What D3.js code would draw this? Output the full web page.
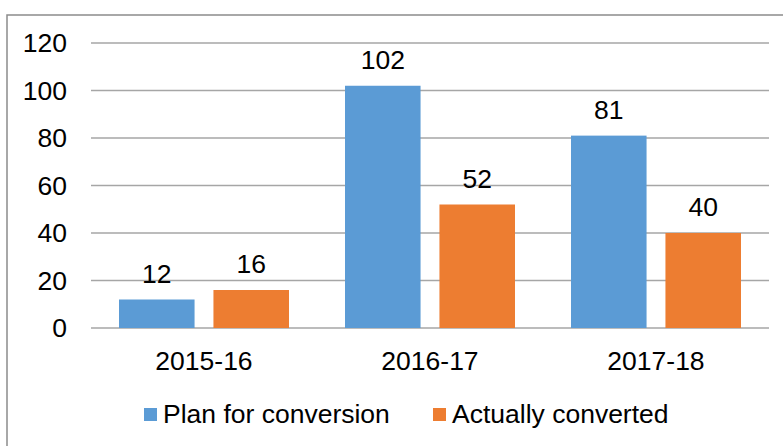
<!DOCTYPE html>
<html>
<head>
<meta charset="utf-8">
<script src="https://cdn.jsdelivr.net/npm/d3@7"></script>
<style>
  body { margin: 0; background: #fff; }
  text { font-family: "Liberation Sans", Arial, sans-serif; fill: #000; }
</style>
</head>
<body>
<div id="chart"></div>
<script>
// data
const years = ["2015-16", "2016-17", "2017-18"];
const seriesNames = ["Plan for conversion", "Actually converted"];
const planValues = [12, 102, 81];
const convertedValues = [16, 52, 40];
const yTicks = [0, 20, 40, 60, 80, 100, 120];
const colors = ["#5B9BD5", "#ED7D31"];

const W = 783, H = 446;
const margin = { top: 43, right: 14, bottom: 118, left: 91 };
const width = W - margin.left - margin.right;
const height = H - margin.top - margin.bottom;
const fs = "26.5px";

const svg = d3.select("#chart").append("svg").attr("width", W).attr("height", H);

// outer chart border (right and bottom run off the picture)
svg.append("rect")
  .attr("x", 7).attr("y", 15)
  .attr("width", 800).attr("height", 460)
  .attr("fill", "none").attr("stroke", "#8c8c8c").attr("stroke-width", 1.5);

const g = svg.append("g").attr("transform", `translate(${margin.left},${margin.top})`);

const x = d3.scaleBand().domain(years).range([0, width]).paddingInner(0).paddingOuter(0);
const x1 = d3.scaleBand().domain(seriesNames).range([28, x.bandwidth() - 28]).paddingInner(0.2);
const y = d3.scaleLinear().domain([0, 120]).range([height, 0]);

// gridlines
g.selectAll(".grid").data(yTicks).enter().append("line")
  .attr("class", "grid")
  .attr("x1", 0).attr("x2", width)
  .attr("y1", d => y(d)).attr("y2", d => y(d))
  .attr("stroke", "#a6a6a6").attr("stroke-width", 1.5);

// y labels
g.selectAll(".ylab").data(yTicks).enter().append("text")
  .attr("class", "ylab")
  .attr("x", -24).attr("y", d => y(d) + 9)
  .attr("text-anchor", "end")
  .attr("font-size", fs)
  .text(d => d);

// x labels
g.selectAll(".xlab").data(years).enter().append("text")
  .attr("class", "xlab")
  .attr("x", d => x(d) + x.bandwidth() / 2).attr("y", height + 42)
  .attr("text-anchor", "middle")
  .attr("font-size", fs)
  .text(d => d);

const table = years.map((yr, i) => ({ year: yr, vals: [planValues[i], convertedValues[i]] }));

const groups = g.selectAll(".grp").data(table).enter().append("g")
  .attr("class", "grp")
  .attr("transform", d => `translate(${x(d.year)},0)`);

const bars = groups.selectAll(".bar")
  .data(d => d.vals.map((v, j) => ({ name: seriesNames[j], value: v, color: colors[j] })))
  .enter();

bars.append("rect")
  .attr("class", "bar")
  .attr("x", d => x1(d.name))
  .attr("y", d => y(d.value))
  .attr("width", x1.bandwidth())
  .attr("height", d => height - y(d.value))
  .attr("fill", d => d.color);

bars.append("text")
  .attr("x", d => x1(d.name) + x1.bandwidth() / 2)
  .attr("y", d => y(d.value) - 17)
  .attr("text-anchor", "middle")
  .attr("font-size", fs)
  .text(d => d.value);

// legend
const legendPos = [144, 433];
const legend = svg.selectAll(".legend").data(seriesNames).enter().append("g")
  .attr("class", "legend")
  .attr("transform", (d, i) => `translate(${legendPos[i]},408)`);

legend.append("rect")
  .attr("width", 13).attr("height", 13)
  .attr("fill", (d, i) => colors[i]);

legend.append("text")
  .attr("x", 19).attr("y", 15)
  .attr("font-size", fs)
  .text(d => d);
</script>
</body>
</html>
